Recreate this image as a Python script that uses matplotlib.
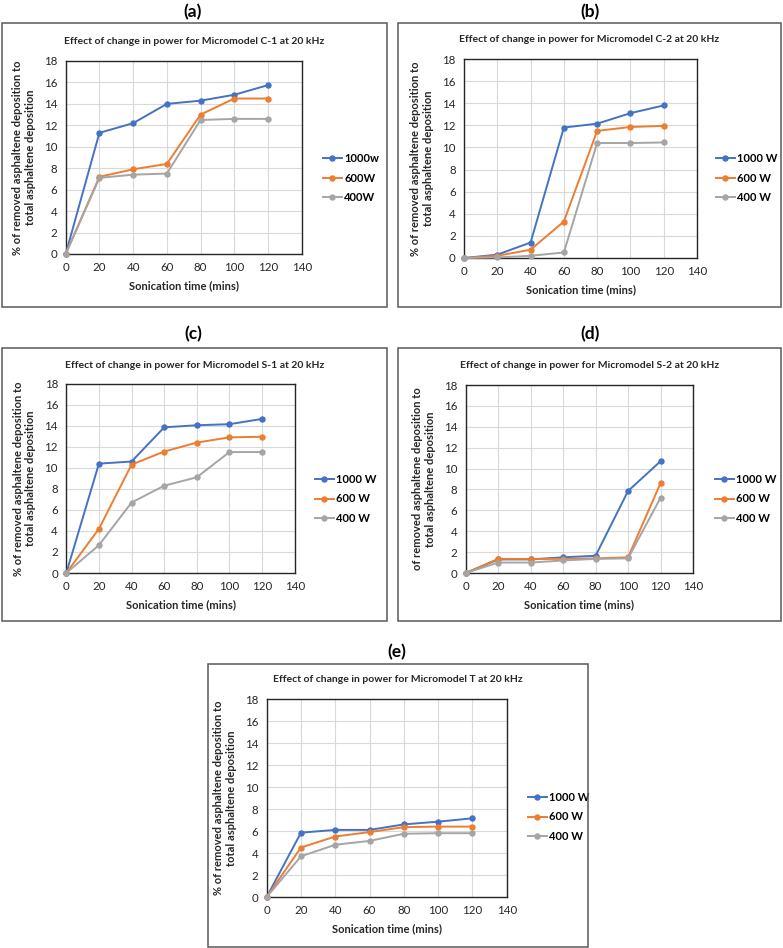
import matplotlib

matplotlib.use("Agg")

import matplotlib.pyplot as plt
from matplotlib.patches import Rectangle

plt.rcParams["font.family"] = ["Lato", "DejaVu Sans"]

W, H = 783, 948

# sonication time (mins)
time_min = [0, 20, 40, 60, 80, 100, 120]

# % of removed asphaltene deposition, per micromodel and power
c1_1000 = [0, 11.3, 12.2, 14.0, 14.3, 14.85, 15.75]
c1_600 = [0, 7.2, 7.9, 8.4, 13.0, 14.5, 14.5]
c1_400 = [0, 7.1, 7.4, 7.5, 12.5, 12.6, 12.6]

c2_1000 = [0, 0.3, 1.4, 11.8, 12.15, 13.1, 13.8]
c2_600 = [0, 0.2, 0.75, 3.3, 11.5, 11.85, 11.95]
c2_400 = [0, 0.05, 0.2, 0.5, 10.4, 10.4, 10.45]

s1_1000 = [0, 10.4, 10.6, 13.85, 14.05, 14.15, 14.65]
s1_600 = [0, 4.2, 10.3, 11.55, 12.4, 12.9, 12.95]
s1_400 = [0, 2.65, 6.7, 8.3, 9.1, 11.5, 11.5]

s2_1000 = [0, 1.3, 1.3, 1.5, 1.65, 7.85, 10.7]
s2_600 = [0, 1.35, 1.35, 1.35, 1.4, 1.5, 8.6]
s2_400 = [0, 1.0, 1.0, 1.2, 1.35, 1.4, 7.2]

t_1000 = [0, 5.85, 6.1, 6.1, 6.6, 6.85, 7.15]
t_600 = [0, 4.5, 5.5, 5.9, 6.35, 6.4, 6.4]
t_400 = [0, 3.7, 4.75, 5.1, 5.75, 5.8, 5.8]

labels_a = ["1000w", "600W", "400W"]
labels_std = ["1000 W", "600 W", "400 W"]

COLORS = ["#4472C4", "#ED7D31", "#A5A5A5"]
YLABEL = "% of removed asphaltene deposition to\ntotal asphaltene deposition"

# panel layout in pixels: box (l, t, r, b), axes (l, t, r, b), legend (x, y mid), title y, tag pos
panels = [
    dict(tag="(a)", tag_xy=(193, 12), box=(2, 23, 387, 307), ax=(65.7, 61, 301.7, 254),
         leg=(323, 178), title_y=42, model="C-1", series=[c1_1000, c1_600, c1_400],
         labels=labels_a, ylabel=YLABEL),
    dict(tag="(b)", tag_xy=(590, 12), box=(398, 23, 781, 307), ax=(464, 59, 697, 258),
         leg=(716, 178), title_y=40, model="C-2", series=[c2_1000, c2_600, c2_400],
         labels=labels_std, ylabel=YLABEL),
    dict(tag="(c)", tag_xy=(193, 334), box=(2, 348, 387, 621), ax=(66.3, 383.7, 294.7, 573),
         leg=(315, 499), title_y=365, model="S-1", series=[s1_1000, s1_600, s1_400],
         labels=labels_std, ylabel=YLABEL),
    dict(tag="(d)", tag_xy=(590, 334), box=(398, 348, 781, 621), ax=(465.7, 385, 693, 573),
         leg=(715, 499), title_y=365, model="S-2", series=[s2_1000, s2_600, s2_400],
         labels=labels_std,
         ylabel="of removed asphaltene deposition to\ntotal asphaltene deposition"),
    dict(tag="(e)", tag_xy=(397, 652), box=(208, 664, 588, 947), ax=(266.7, 699, 506.7, 897),
         leg=(528, 817), title_y=680, model="T", series=[t_1000, t_600, t_400],
         labels=labels_std, ylabel=YLABEL),
]


def fx(x):
    return x / W


def fy(y):
    return 1 - y / H


fig = plt.figure(figsize=(W / 100, H / 100), dpi=100)
fig.patch.set_facecolor("white")

for p in panels:
    bl, bt, br, bb = p["box"]
    fig.patches.append(Rectangle((fx(bl), fy(bb)), fx(br - bl), (bb - bt) / H,
                                 transform=fig.transFigure, fill=False,
                                 edgecolor="#595959", linewidth=1.1))
    fig.text(fx(p["tag_xy"][0]), fy(p["tag_xy"][1]), p["tag"], ha="center", va="center",
             fontsize=12.5, fontweight="bold")
    fig.text(fx((bl + br) / 2), fy(p["title_y"]),
             f"Effect of change in power for Micromodel {p['model']} at 20 kHz",
             ha="center", va="center", fontsize=7.5, fontweight="bold", color="#262626")

    al, at, ar, ab = p["ax"]
    ax = fig.add_axes([fx(al), fy(ab), fx(ar - al), (ab - at) / H])
    for vals, lab, col in zip(p["series"], p["labels"], COLORS):
        ax.plot(time_min, vals, color=col, linewidth=1.4, marker="o", markersize=3.6,
                label=lab, zorder=3, clip_on=False)
    ax.set_xlim(0, 140)
    ax.set_ylim(0, 18)
    ax.set_xticks(range(0, 141, 20))
    ax.set_yticks(range(0, 19, 2))
    ax.grid(True, color="#D9D9D9", linewidth=0.8)
    ax.set_axisbelow(True)
    for s in ax.spines.values():
        s.set_color("#262626")
        s.set_linewidth(1.0)
    ax.tick_params(length=0, labelsize=8.3, pad=6, colors="#262626")
    ax.set_xlabel("Sonication time (mins)", fontsize=8, fontweight="bold", labelpad=5,
                  color="#262626")
    ax.set_ylabel(p["ylabel"], fontsize=8, fontweight="bold", labelpad=6,
                  color="#262626", linespacing=1.15)
    ax.legend(loc="center left", bbox_to_anchor=(fx(p["leg"][0]), fy(p["leg"][1])),
              bbox_transform=fig.transFigure, frameon=False,
              prop={"weight": "bold", "size": 8}, handlelength=1.7, handletextpad=0.2,
              labelspacing=0.75, borderpad=0, borderaxespad=0)

fig.savefig("out.png", dpi=100, facecolor="white")
